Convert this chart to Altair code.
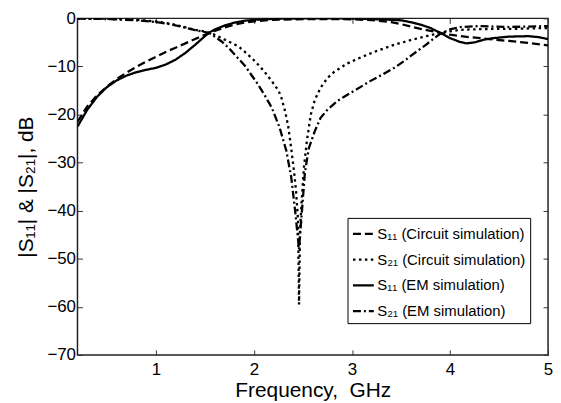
import altair as alt
import pandas as pd

# ---- data ----
f_s11_circ = [0.2, 0.3, 0.4, 0.5, 0.6, 0.7, 0.8, 0.9, 1.0, 1.1, 1.2, 1.3, 1.4, 1.5, 1.6, 1.7, 1.8, 1.9, 2.0,
              2.2, 2.4, 2.6, 2.8, 3.0, 3.2, 3.4, 3.5, 3.6, 3.7, 3.8, 3.9, 4.0, 4.2, 4.4, 4.6, 4.8, 5.0]
db_s11_circ = [-21.5, -18.3, -16.0, -14.2, -12.6, -11.3, -10.1, -9.0, -8.0, -7.0, -6.1, -5.2, -4.3, -3.4, -2.6,
               -1.9, -1.3, -0.9, -0.6, -0.3, -0.2, -0.15, -0.15, -0.2, -0.35, -0.8, -1.2, -1.7, -2.2, -2.6,
               -3.0, -3.4, -3.9, -4.3, -4.7, -5.1, -5.6]

f_s21_circ = [0.2, 0.4, 0.6, 0.8, 0.9, 1.0, 1.1, 1.2, 1.3, 1.4, 1.5, 1.6, 1.67, 1.75, 1.84, 1.92, 2.01, 2.1,
              2.18, 2.25, 2.28, 2.32, 2.35, 2.38, 2.41, 2.43, 2.45, 2.46, 2.47, 2.49, 2.51, 2.54, 2.58, 2.62,
              2.68, 2.75, 2.82, 2.95, 3.09, 3.25, 3.43, 3.6, 3.76, 3.9, 4.0, 4.1, 4.2, 4.4, 4.6, 4.8, 5.0]
db_s21_circ = [-0.02, -0.05, -0.15, -0.3, -0.45, -0.65, -0.95, -1.35, -1.85, -2.4, -2.75, -3.4, -4.1, -4.9,
               -5.8, -7.2, -8.9, -10.9, -13.0, -15.0, -16.5, -19.5, -22.5, -27.0, -32.0, -36.0, -42.0, -59.5,
               -44.0, -37.0, -31.0, -25.5, -20.0, -17.0, -14.4, -12.4, -11.1, -9.4, -8.1, -6.8, -5.5, -4.5,
               -3.7, -3.0, -2.7, -2.4, -2.3, -2.2, -2.2, -2.1, -2.0]

f_s11_em = [0.2, 0.3, 0.4, 0.5, 0.6, 0.7, 0.8, 0.9, 1.0, 1.1, 1.2, 1.3, 1.4, 1.5, 1.54, 1.6, 1.7, 1.8, 1.9,
            2.0, 2.2, 2.5, 2.8, 3.0, 3.2, 3.4, 3.5, 3.6, 3.7, 3.8, 3.9, 4.0, 4.1, 4.17, 4.25, 4.35, 4.45,
            4.6, 4.8, 4.9, 5.0]
db_s11_em = [-22.5, -19.0, -16.3, -14.3, -12.9, -11.9, -11.2, -10.7, -10.3, -9.6, -8.6, -7.2, -5.5, -3.7,
             -3.0, -2.3, -1.5, -0.9, -0.5, -0.3, -0.1, 0.0, 0.0, -0.05, -0.15, -0.3, -0.4, -0.8, -1.3, -2.0,
             -3.0, -4.1, -4.9, -5.2, -5.0, -4.4, -4.1, -3.8, -3.7, -3.9, -4.3]

f_s21_em = [0.2, 0.4, 0.6, 0.8, 1.0, 1.1, 1.2, 1.3, 1.4, 1.54, 1.6, 1.67, 1.74, 1.82, 1.91, 2.04, 2.11, 2.18,
            2.26, 2.33, 2.38, 2.42, 2.46, 2.49, 2.52, 2.56, 2.62, 2.68, 2.75, 2.85, 2.92, 3.02, 3.19, 3.3,
            3.43, 3.53, 3.6, 3.68, 3.76, 3.84, 3.9, 4.0, 4.1, 4.3, 4.6, 4.8, 5.0]
db_s21_em = [-0.05, -0.1, -0.2, -0.4, -0.75, -1.05, -1.45, -1.95, -2.45, -3.0, -3.8, -4.8, -6.1, -7.9, -9.9,
             -13.7, -16.0, -18.5, -22.6, -27.5, -33.0, -40.0, -48.0, -40.0, -32.0, -27.0, -23.5, -20.7,
             -19.0, -17.2, -16.3, -15.1, -13.0, -11.8, -10.3, -8.9, -7.8, -6.6, -5.4, -4.1, -3.2, -2.3,
             -1.8, -1.6, -1.8, -1.7, -1.6]

series_names = ["S\u2081\u2081 (Circuit simulation)", "S\u2082\u2081 (Circuit simulation)",
                "S\u2081\u2081 (EM simulation)", "S\u2082\u2081 (EM simulation)"]
x_ticks = [1, 2, 3, 4, 5]
y_ticks = [-70, -60, -50, -40, -30, -20, -10, 0]

rows = []
for name, fs, ds in zip(series_names,
                        [f_s11_circ, f_s21_circ, f_s11_em, f_s21_em],
                        [db_s11_circ, db_s21_circ, db_s11_em, db_s21_em]):
    for f, d in zip(fs, ds):
        rows.append({"series": name, "f": f, "db": d})
df = pd.DataFrame(rows)

FONT = "Liberation Sans"
x_scale = alt.Scale(domain=[0.2, 5], nice=False, zero=False)
y_scale = alt.Scale(domain=[-70, 0], nice=False, zero=False)

lines = alt.Chart(df).mark_line(color="black", strokeWidth=2.3, clip=True, strokeCap="butt").encode(
    x=alt.X("f:Q", scale=x_scale,
            axis=alt.Axis(title="Frequency,\u00a0 GHz", values=x_ticks, orient="bottom", offset=-5,
                          tickSize=5, domain=False, grid=False, labelPadding=7, titlePadding=2,
                          labelFontSize=17, titleFontSize=21, labelFlush=False)),
    y=alt.Y("db:Q", scale=y_scale,
            axis=alt.Axis(title="|S\u2081\u2081| & |S\u2082\u2081|, dB", values=y_ticks, orient="left",
                          offset=-5, tickSize=5, domain=False, grid=False, labelPadding=2,
                          titlePadding=10, labelFontSize=17, titleFontSize=21, labelFlush=False)),
    strokeDash=alt.StrokeDash(
        "series:N",
        scale=alt.Scale(domain=series_names,
                        range=[[8, 4], [2.5, 3.5], [1, 0], [8, 3, 2, 3]]),
        legend=alt.Legend(title=None, orient="none", legendX=272, legendY=201,
                          strokeColor="black", fillColor="white", padding=4,
                          symbolType="stroke", symbolSize=441, symbolStrokeWidth=2.3,
                          symbolStrokeColor="black", labelFontSize=15, labelFont=FONT,
                          labelColor="black", rowPadding=6, labelOffset=2, labelLimit=400)),
)

frame = alt.Chart(df).mark_line(opacity=0).encode(
    x=alt.X("f:Q", scale=x_scale,
            axis=alt.Axis(orient="top", labels=False, title=None, values=x_ticks, offset=-5,
                          tickSize=5, domain=False, grid=False)),
    y=alt.Y("db:Q", scale=y_scale,
            axis=alt.Axis(orient="right", labels=False, title=None, values=y_ticks, offset=-5,
                          tickSize=5, domain=False, grid=False)),
    detail="series:N",
)

chart = alt.layer(lines, frame).resolve_axis(x="independent", y="independent").properties(
    width=474, height=339,
    autosize=alt.AutoSizeParams(type="none"),
    padding={"left": 70, "top": 9, "right": 5, "bottom": 46},
    background="white",
).configure_view(stroke="#222222", strokeWidth=1.5).configure_axis(
    labelFont=FONT, titleFont=FONT, labelColor="black", titleColor="black",
    tickColor="#333333", tickWidth=1, titleFontWeight="normal",
)

chart.save("out.html", embed_options={"renderer": "svg", "actions": False})
